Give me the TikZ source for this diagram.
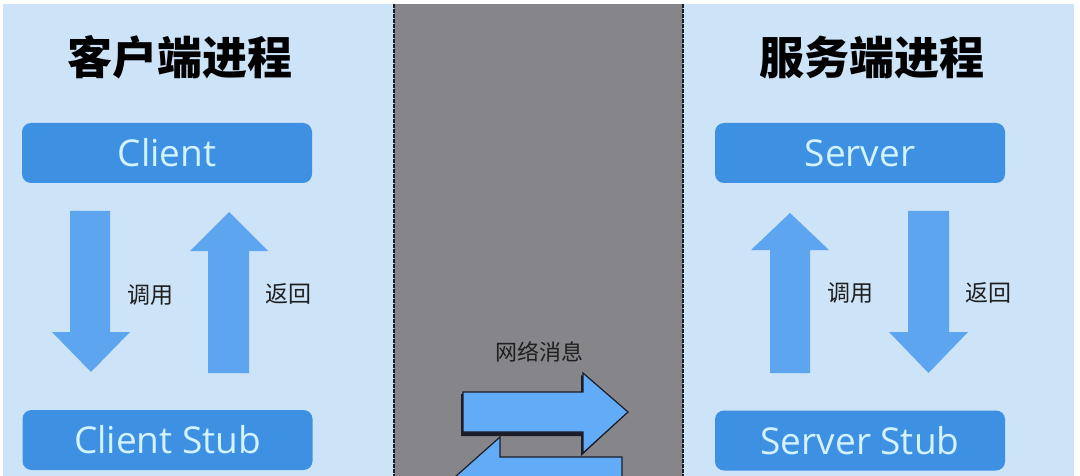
\documentclass[tikz,border=0pt]{standalone}
\usepackage{fontspec}
\setmainfont{Open Sans}
\newfontfamily\cjk{Noto Sans CJK SC}
\definecolor{panelbg}{HTML}{CCE3F8}
\definecolor{midgrey}{HTML}{86858A}
\definecolor{boxblue}{HTML}{3E90E2}
\definecolor{boxtext}{HTML}{D2F3FF}
\definecolor{arrblue}{HTML}{5DA6EF}
\definecolor{netblue}{HTML}{62ABF7}
\definecolor{edgedark}{HTML}{1B1C26}
\tikzset{
  box/.style={fill=boxblue, rounded corners=9pt, minimum width=290pt, minimum height=60pt,
    inner sep=0pt, text=boxtext, font=\fontsize{37}{40}\selectfont},
  title/.style={font=\cjk\bfseries\fontsize{45}{50}\selectfont, text=black},
  lbl/.style={font=\cjk\fontsize{23}{26}\selectfont, text=black!88},
  blockarrow/.style={fill=arrblue, draw=none},
  netarrow/.style={fill=netblue, draw=edgedark, line width=1.2pt, line join=miter},
  netshadow/.style={fill=edgedark, draw=none},
  divider/.style={edgedark, line width=2.4pt, dash pattern=on 4pt off 1pt}
}
\begin{document}
\begin{tikzpicture}[x=1pt, y=-1pt]
\useasboundingbox (0,0) rectangle (1080,476);
\clip (0,0) rectangle (1080,476);
\fill[white] (0,0) rectangle (1080,476);
% panels
\fill[panelbg] (3,4) rectangle (394,476);
\fill[panelbg] (683,4) rectangle (1074,476);
\fill[midgrey] (394,4) rectangle (683,476);
\coordinate (d1t) at (394,4);
\coordinate (d1b) at (394,476);
\coordinate (d2t) at (683,4);
\coordinate (d2b) at (683,476);
\draw[divider] (d1t) -- (d1b);
\draw[divider] (d2t) -- (d2b);

% titles
\node[title] (tc) at (180,57) {客户端进程};
\node[title] (ts) at (872,57) {服务端进程};

% boxes
\node[box] (client) at (167,153) {Client};
\node[box] (cstub) at (167.5,440) {Client Stub};
\node[box] (server) at (860,153) {Server};
\node[box] (sstub) at (860,440.5) {Server Stub};

% left vertical arrows
\fill[blockarrow] (70,211) -- (110,211) -- (110,332) -- (130,332) -- (91,372) -- (52,332) -- (70,332) -- cycle;
\fill[blockarrow] (229,212) -- (268,251) -- (249,251) -- (249,373) -- (208,373) -- (208,251) -- (190,251) -- cycle;
\node[lbl] (lcall) at (150,295) {调用};
\node[lbl] (lret) at (288,294) {返回};

% right vertical arrows
\fill[blockarrow] (790,213) -- (829,250) -- (810,250) -- (810,373) -- (770,373) -- (770,250) -- (751,250) -- cycle;
\fill[blockarrow] (908,211) -- (949,211) -- (949,332) -- (968,332) -- (928.5,373) -- (889,332) -- (908,332) -- cycle;
\node[lbl] (rcall) at (850,293) {调用};
\node[lbl] (rret) at (988,293) {返回};

% network message
\node[font=\cjk\fontsize{22}{25}\selectfont, text=black!88] (net) at (539,352) {网络消息};
% right-pointing arrow
\fill[netshadow] (461,394) -- (581,394) -- (581,375) -- (626,414) -- (581,456) -- (581,436) -- (461,436) -- cycle;
\filldraw[netarrow] (463,392) -- (583,392) -- (583,373) -- (628,412) -- (583,453) -- (583,432) -- (463,432) -- cycle;
% left-pointing arrow (partly outside)
\filldraw[netarrow] (622,457) -- (500,457) -- (500,437) -- (455,477) -- (500,517) -- (500,497) -- (622,497) -- cycle;
\end{tikzpicture}
\end{document}
